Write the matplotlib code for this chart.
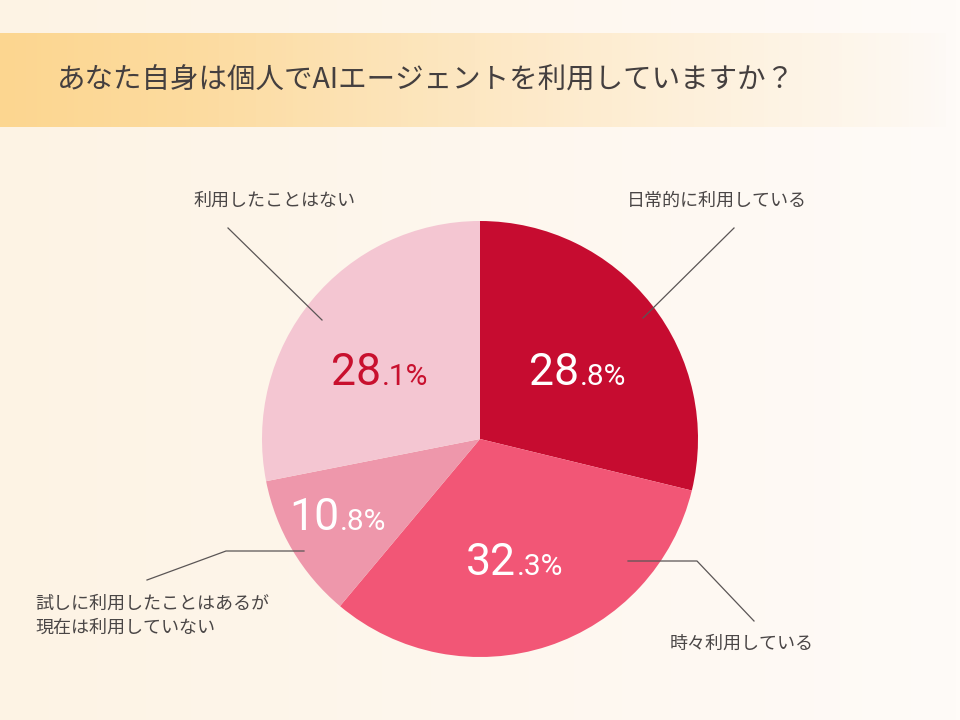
import numpy as np
import matplotlib
matplotlib.use("Agg")
import matplotlib.pyplot as plt

plt.rcParams['font.family'] = ['Noto Sans CJK JP', 'DejaVu Sans']

# data
title = "あなた自身は個人でAIエージェントを利用していますか？"
categories = ["日常的に利用している", "時々利用している",
              "試しに利用したことはあるが\n現在は利用していない", "利用したことはない"]
values = [28.8, 32.3, 10.8, 28.1]
colors = ["#C60C30", "#F25676", "#EE97AB", "#F4C6D2"]
pct_colors = ["white", "white", "white", "#C8102E"]

W, H = 960, 720
fig = plt.figure(figsize=(9.6, 7.2), dpi=100)


def fx(px):
    return px / W


def fy(py):
    return 1 - py / H


# background gradient
bg = fig.add_axes([0, 0, 1, 1])
bg.set_axis_off()
grad = np.linspace(0, 1, 256)
c0 = np.array([0xFD, 0xF3, 0xE4]) / 255
c1 = np.array([0xFF, 0xFB, 0xF8]) / 255
img = c0[None, :] * (1 - grad[:, None]) + c1[None, :] * grad[:, None]
bg.imshow(img[None, :, :], extent=[0, 1, 0, 1], aspect="auto")

# title band
band = np.zeros((1, 256, 4))
cl = np.array([0xFC, 0xD6, 0x90]) / 255
cr = np.array([0xFE, 0xF0, 0xDA]) / 255
band[0, :, :3] = cl[None, :] * (1 - grad[:, None]) + cr[None, :] * grad[:, None]
band[0, :, 3] = np.clip(1.25 - grad * 1.25, 0, 1) ** 0.6
bg.imshow(band, extent=[0, fx(950), fy(127), fy(33)], aspect="auto")
bg.set_xlim(0, 1)
bg.set_ylim(0, 1)
bg.text(fx(57), fy(81), title, fontsize=20.5, color="#443f3f", va="center", ha="left")

# pie
cx, cy, r = 480, 439, 218
ax = fig.add_axes([fx(cx - r), fy(cy + r), 2 * r / W, 2 * r / H])
wedges, _ = ax.pie(values, colors=colors, startangle=90, counterclock=False,
                   radius=1, wedgeprops=dict(linewidth=0))
ax.set_xlim(-1, 1)
ax.set_ylim(-1, 1)
ax.set_axis_off()

# percentage labels: point between whole part and decimal part, on the baseline
label_pos = [(0.454, 0.248), (0.165, -0.624), (-0.647, -0.417), (-0.454, 0.248)]
for v, (x, y), col in zip(values, label_pos, pct_colors):
    whole, dec = f"{v:.1f}".split(".")
    ax.text(x, y, whole, fontsize=32, family="Roboto", color=col,
            ha="right", va="baseline")
    ax.text(x + 0.005, y, "." + dec + "%", fontsize=21.5, family="Roboto",
            color=col, ha="left", va="baseline")

# leader lines (pixel positions), drawn above the pie
top = fig.add_axes([0, 0, 1, 1])
top.set_axis_off()
top.patch.set_alpha(0)
top.set_xlim(0, 1)
top.set_ylim(0, 1)
lc = "#5a5555"
lines = [
    [(643, 318), (734, 228)],
    [(628, 561), (697, 561), (754, 621)],
    [(304, 551), (226, 551), (147, 580)],
    [(322, 320), (228, 228)],
]
for pts in lines:
    xs = [fx(p[0]) for p in pts]
    ys = [fy(p[1]) for p in pts]
    top.plot(xs, ys, color=lc, lw=0.9)

tc = "#4a4646"
top.text(fx(717), fy(201), categories[0], fontsize=13, color=tc, ha="center", va="center")
top.text(fx(742), fy(644), categories[1], fontsize=13, color=tc, ha="center", va="center")
top.text(fx(35), fy(616), categories[2], fontsize=13, color=tc, ha="left", va="center",
         linespacing=1.45)
top.text(fx(274), fy(201), categories[3], fontsize=13, color=tc, ha="center", va="center")

fig.savefig("out.png", dpi=100)
